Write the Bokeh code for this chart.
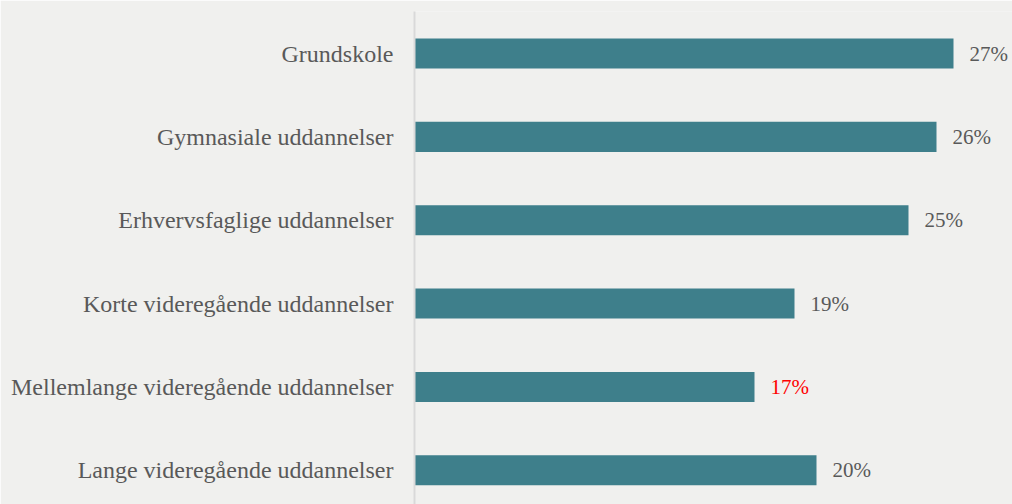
from bokeh.plotting import figure
from bokeh.models import Range1d, ColumnDataSource, FixedTicker
from bokeh.core.properties import value
from bokeh.embed import file_html
from bokeh.resources import INLINE

categories = ["Grundskole", "Gymnasiale uddannelser", "Erhvervsfaglige uddannelser",
              "Korte videregående uddannelser", "Mellemlange videregående uddannelser",
              "Lange videregående uddannelser"]
values = [26.95, 26.1, 24.7, 19.0, 17.0, 20.1]
labels = ["27%", "26%", "25%", "19%", "17%", "20%"]
label_colors = ["#595959", "#595959", "#595959", "#595959", "#ff0000", "#595959"]

BG = "#f0f0ee"
pos = list(range(len(categories)))

src = ColumnDataSource(dict(y=pos, v=values, lab=labels, col=label_colors))

p = figure(width=1012, height=504, output_backend="svg", toolbar_location=None,
           x_range=Range1d(0, 29.9), y_range=Range1d(5.41, -0.504),
           min_border_left=414, min_border_right=0, min_border_top=11, min_border_bottom=0,
           background_fill_color=BG, border_fill_color=BG, outline_line_color=None)
p.xaxis.visible = False
p.xgrid.visible = False
p.ygrid.visible = False

p.hbar(y="y", right="v", left=0, height=0.36, source=src, fill_color="#3e7f8b", line_color=None)
p.text(x="v", y="y", text="lab", source=src, text_color="col", x_offset=16,
       text_baseline="middle", text_align="left", text_font=value("Liberation Serif"),
       text_font_size="21px")

ax = p.yaxis[0]
ax.ticker = FixedTicker(ticks=pos)
ax.major_label_overrides = {i: c for i, c in enumerate(categories)}
ax.major_label_text_font = "Liberation Serif"
ax.major_label_text_font_size = "24px"
ax.major_label_text_color = "#595959"
ax.major_label_standoff = 15
ax.major_tick_line_color = None
ax.minor_tick_line_color = None
ax.axis_line_color = "#d9d9d9"
ax.axis_line_width = 2

open("out.html", "w").write(file_html(p, INLINE))
